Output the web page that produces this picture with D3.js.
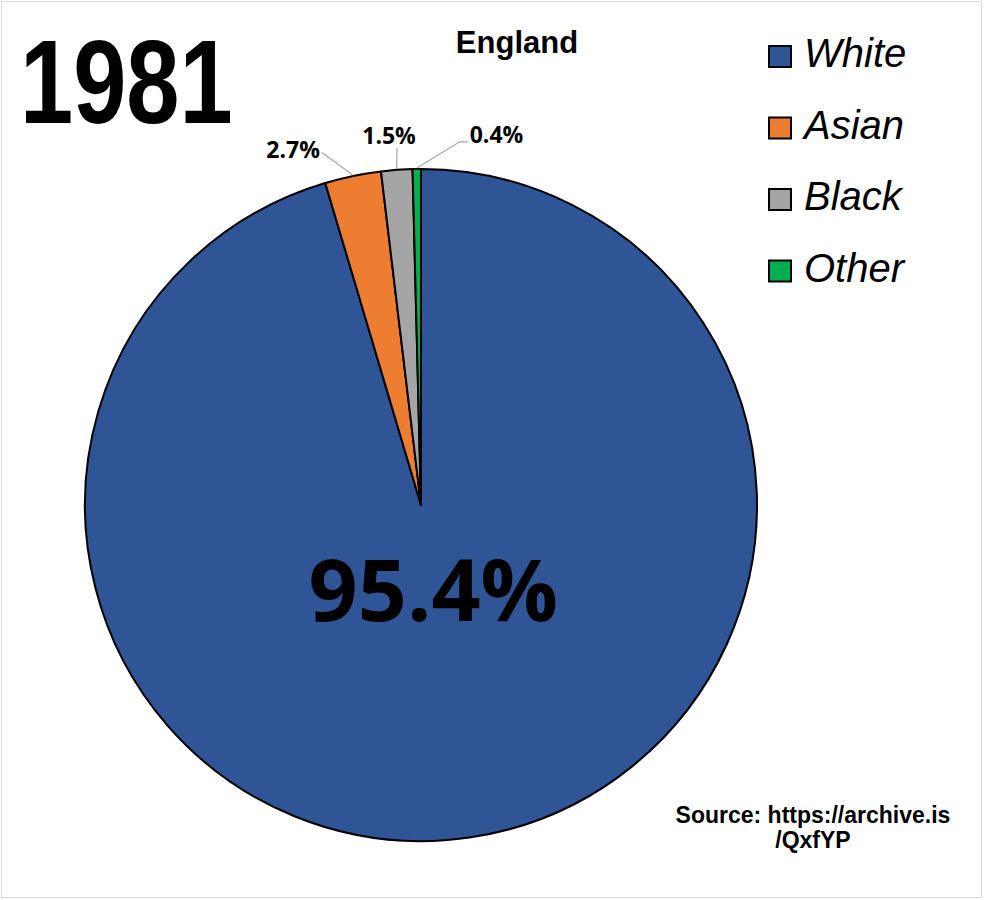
<!DOCTYPE html>
<html>
<head>
	<meta http-equiv="Content-Type" content="text/html; charset=utf-8">
	<title>England 1981</title>
	<script src="https://d3js.org/d3.v7.min.js"></script>
	<style>
		body { margin: 0; background: #fff; }
		.pct { font-family: 'Open Sans', 'Noto Sans', sans-serif; font-weight: 700; fill: #000; }
		.legend text { font-family: 'Liberation Sans', Arial, sans-serif; font-style: italic; font-size: 40px; }
		.bold { font-family: 'Liberation Sans', Arial, sans-serif; font-weight: 700; }
	</style>
</head>
<body>
<script>
	// data
	var groups = ["White", "Asian", "Black", "Other"];
	var shares = [95.4, 2.7, 1.5, 0.4];
	var colors = ["#2F5597", "#ED7D31", "#A5A5A5", "#00B050"];
	var year = "1981";
	var region = "England";
	var sourceLines = ["Source: https://archive.is", "/QxfYP"];

	var width = 984, height = 900;
	var cx = 421, cy = 505, radius = 336;

	// where the small labels sit (angle shift in degrees, radius factor, anchor)
	var callout = [null,
		{shift: -4.0, r: 1.09, anchor: "end", dx: -2, dy: 6},
		{shift: 0.3, r: 1.065, anchor: "middle", dx: -8, dy: -4},
		{shift: 6.8, r: 1.087, anchor: "start", dx: 2, dy: 1}];

	var svg = d3.select("body").append("svg")
			.attr("width", width)
			.attr("height", height);

	svg.append("rect")
			.attr("x", 1.5).attr("y", 1.5)
			.attr("width", width - 4).attr("height", height - 4)
			.style("fill", "#fff")
			.style("stroke", "#d9d9d9");

	var pie = d3.pie().sort(null).value(function(d) { return d; });
	var arcs = pie(shares);

	var arc = d3.arc().innerRadius(0).outerRadius(radius);

	var g = svg.append("g")
			.attr("transform", "translate(" + cx + "," + cy + ")");

	g.selectAll(".slice")
			.data(arcs)
			.enter()
			.append("path")
			.attr("class", "slice")
			.attr("d", arc)
			.style("fill", function(d, i) { return colors[i]; })
			.style("stroke", "#000")
			.style("stroke-width", 2)
			.style("stroke-linejoin", "round");

	// big label for the main slice
	var inner = d3.arc().innerRadius(radius * 0.255).outerRadius(radius * 0.255);
	g.append("text")
			.attr("class", "pct")
			.attr("transform", "translate(" + inner.centroid(arcs[0]) + ")")
			.attr("dy", "0.36em")
			.attr("text-anchor", "middle")
			.style("font-size", "86px")
			.text(shares[0].toFixed(1) + "%");

	function polar(angle, r) {
		return [r * Math.sin(angle), -r * Math.cos(angle)];
	}

	// callouts for small slices
	arcs.forEach(function(d, i) {
		var c = callout[i];
		if (!c) return;
		var mid = (d.startAngle + d.endAngle) / 2;
		var edge = polar(mid, radius + 1);
		var tip = polar(mid + c.shift * Math.PI / 180, radius * c.r);
		var pts = [edge, tip];
		if (c.anchor == "start") pts.push([tip[0] + 8, tip[1]]);
		g.append("path")
				.attr("d", d3.line()(pts))
				.style("fill", "none")
				.style("stroke", "#a6a6a6")
				.style("stroke-width", 1.2);
		var last = pts[pts.length - 1];
		g.append("text")
				.attr("class", "pct")
				.attr("x", last[0] + c.dx)
				.attr("y", last[1] + c.dy)
				.attr("text-anchor", c.anchor)
				.style("font-size", "23px")
				.text(shares[i].toFixed(1) + "%");
	});

	// year and title
	svg.append("text")
			.attr("class", "bold")
			.attr("transform", "translate(20,123) scale(0.81,1)")
			.style("font-size", "118px")
			.text(year);

	svg.append("text")
			.attr("class", "bold")
			.attr("x", 517).attr("y", 53)
			.attr("text-anchor", "middle")
			.style("font-size", "31px")
			.text(region);

	// legend
	var legend = svg.append("g")
			.attr("class", "legend")
			.attr("transform", "translate(768,45)");

	var item = legend.selectAll("g")
			.data(groups)
			.enter()
			.append("g")
			.attr("transform", function(d, i) { return "translate(0," + i * 71.5 + ")"; });

	item.append("rect")
			.attr("x", 1).attr("y", 1)
			.attr("width", 22).attr("height", 21)
			.style("fill", function(d, i) { return colors[i]; })
			.style("stroke", "#000")
			.style("stroke-width", 2);

	item.append("text")
			.attr("x", 36).attr("y", 22)
			.text(function(d) { return d; });

	// source note
	svg.append("g").selectAll("text")
			.data(sourceLines)
			.enter()
			.append("text")
			.attr("class", "bold")
			.attr("x", 813)
			.attr("y", function(d, i) { return 823 + i * 25; })
			.attr("text-anchor", "middle")
			.style("font-size", "23px")
			.text(function(d) { return d; });
</script>
</body>
</html>
